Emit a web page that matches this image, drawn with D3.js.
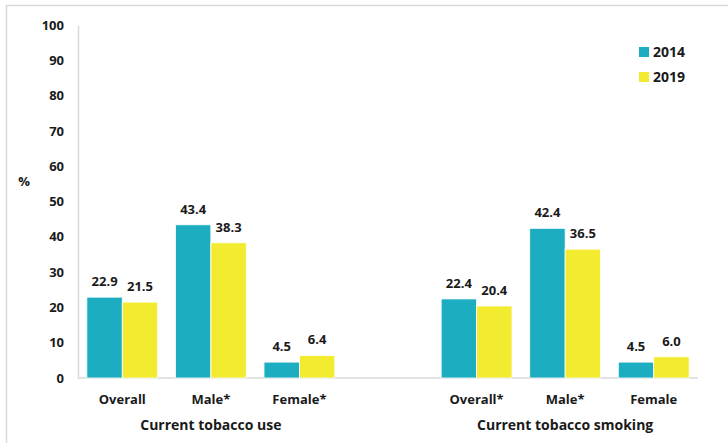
<!DOCTYPE html>
<html>
<head>
<meta charset="utf-8">
<script src="https://cdn.jsdelivr.net/npm/d3@7"></script>
<style>
  html, body { margin: 0; padding: 0; background: #fff; }
  svg { display: block; font-family: "Open Sans", "Noto Sans", sans-serif; }
</style>
</head>
<body>
<svg id="chart" width="728" height="443"></svg>
<script>
const categories = ['Overall', 'Male*', 'Female*', '', 'Overall*', 'Male* ', 'Female'];
const groupLabels = ['Current tobacco use', 'Current tobacco smoking'];
const series = ['2014', '2019'];
const values2014 = [22.9, 43.4, 4.5, null, 22.4, 42.4, 4.5];
const values2019 = [21.5, 38.3, 6.4, null, 20.4, 36.5, 6.0];
const yTicks = [0, 10, 20, 30, 40, 50, 60, 70, 80, 90, 100];

const colors = { '2014': '#1dadc0', '2019': '#f2eb2f' };
const textColor = '#1a1a1a';

const svg = d3.select('#chart');
const W = 728, H = 443;

// frame (only top/left edges show in the reference)
svg.append('rect')
    .attr('x', 6.5).attr('y', 5.5)
    .attr('width', W).attr('height', H)
    .attr('fill', 'none')
    .attr('stroke', '#d9d9d9')
    .attr('stroke-width', 1.5);

const PLOT = { left: 78, right: 698, top: 25, bottom: 378 };

const x = d3.scaleBand()
    .domain(categories)
    .range([PLOT.left, PLOT.right])
    .paddingInner(0.2)
    .paddingOuter(0.1);

const xs = d3.scaleBand()
    .domain(series)
    .range([0, x.bandwidth()]);

const y = d3.scaleLinear()
    .domain([0, 100])
    .range([PLOT.bottom, PLOT.top]);

// y axis
const yAxis = svg.append('g')
    .attr('transform', `translate(${PLOT.left},0)`)
    .call(d3.axisLeft(y).tickValues(yTicks).tickSize(0).tickPadding(14));
yAxis.select('.domain').attr('stroke', '#d9d9d9').attr('stroke-width', 1.5);
yAxis.selectAll('.tick text')
    .style('font-size', '13px')
    .style('font-weight', 'bold')
    .style('font-family', '"Open Sans", sans-serif')
    .style('fill', textColor);

// baseline
svg.append('line')
    .attr('x1', PLOT.left).attr('x2', PLOT.right)
    .attr('y1', y(0)).attr('y2', y(0))
    .attr('stroke', '#d9d9d9')
    .attr('stroke-width', 1.5);

svg.append('text')
    .attr('x', 24).attr('y', 186)
    .attr('text-anchor', 'middle')
    .style('font-size', '13px')
    .style('font-weight', 'bold')
    .style('fill', textColor)
    .text('%');

const data = [];
categories.forEach((c, i) => {
    if (values2014[i] != null) data.push({ cat: c, s: '2014', v: values2014[i] });
    if (values2019[i] != null) data.push({ cat: c, s: '2019', v: values2019[i] });
});

const bars = svg.append('g');
bars.selectAll('rect')
    .data(data)
    .join('rect')
    .attr('x', d => x(d.cat) + xs(d.s))
    .attr('y', d => y(d.v))
    .attr('width', xs.bandwidth())
    .attr('height', d => y(0) - y(d.v))
    .attr('fill', d => colors[d.s])
    .attr('stroke', '#fff')
    .attr('stroke-width', 0.8);

bars.selectAll('text')
    .data(data)
    .join('text')
    .attr('x', d => x(d.cat) + xs(d.s) + xs.bandwidth() / 2)
    .attr('y', d => y(d.v) - 11)
    .attr('text-anchor', 'middle')
    .style('font-size', '13px')
    .style('font-weight', 'bold')
    .style('fill', textColor)
    .text(d => d.v.toFixed(1));

// category labels
svg.append('g').selectAll('text')
    .data(categories.filter(c => c !== ''))
    .join('text')
    .attr('x', d => x(d) + x.bandwidth() / 2)
    .attr('y', 404)
    .attr('text-anchor', 'middle')
    .style('font-size', '13px')
    .style('font-weight', 'bold')
    .style('fill', textColor)
    .text(d => d.trim());

// group labels
const groupCenters = [
    x(categories[1]) + x.bandwidth() / 2,
    x(categories[5]) + x.bandwidth() / 2
];
svg.append('g').selectAll('text')
    .data(groupLabels)
    .join('text')
    .attr('x', (d, i) => groupCenters[i])
    .attr('y', 430)
    .attr('text-anchor', 'middle')
    .style('font-size', '14px')
    .style('font-weight', 'bold')
    .style('fill', textColor)
    .text(d => d);

// legend
const legend = svg.append('g').attr('transform', 'translate(639,47)');
series.forEach((s, i) => {
    const row = legend.append('g').attr('transform', `translate(0,${i * 25})`);
    row.append('rect').attr('width', 10).attr('height', 10).attr('fill', colors[s]);
    row.append('text')
        .attr('x', 14).attr('y', 10)
        .style('font-size', '14px')
        .style('font-weight', 'bold')
        .style('fill', textColor)
        .text(s);
});
</script>
</body>
</html>
